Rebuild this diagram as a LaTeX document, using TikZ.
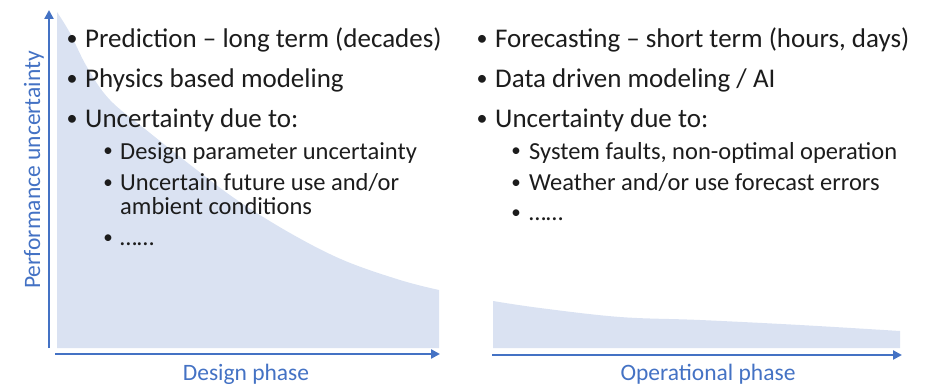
\documentclass[tikz,border=0pt]{standalone}
\usepackage{fontspec}
\setmainfont{Carlito}
\usetikzlibrary{arrows.meta}
\definecolor{axisblue}{HTML}{4472C4}
\definecolor{shadefill}{HTML}{DAE2F2}
\definecolor{txtcol}{HTML}{1C1C1C}
\begin{document}
\begin{tikzpicture}[x=1pt,y=-1pt,
  maintext/.style={anchor=base west,inner sep=0pt,text=txtcol,font=\fontsize{27}{32}\selectfont},
  subtext/.style={anchor=base west,inner sep=0pt,text=txtcol,font=\fontsize{24.5}{29}\selectfont},
  mainbullet/.style={anchor=base,inner sep=0pt,text=txtcol,font=\fontsize{22}{26}\selectfont},
  subbullet/.style={anchor=base,inner sep=0pt,text=txtcol,font=\fontsize{19}{23}\selectfont},
  axislabel/.style={anchor=base,inner sep=0pt,text=axisblue,font=\fontsize{23.5}{28}\selectfont},
  axisarrow/.style={draw=axisblue,line width=2.6pt,-{Triangle[length=9pt,width=9pt]}},
  area/.style={fill=shadefill,draw=none}]
\useasboundingbox (0,0) rectangle (942,385);
% shaded regions
\path[area] (57,348) -- (57,12)
  -- plot[smooth,tension=0.6] coordinates {(57,12) (70,33) (87,67) (110,100) (150,133) (193,167) (237,200) (290,233) (343,260) (400,280) (439,290)}
  -- (439,348) -- cycle;
\path[area] (493,348) -- (493,301)
  -- plot[smooth,tension=0.6] coordinates {(493,301) (540,308) (620,317) (700,320) (800,325) (900,331)}
  -- (900,348) -- cycle;
% axes
\coordinate (ly0) at (49,348);
\coordinate (ly1) at (49,10);
\coordinate (lx0) at (55,354);
\coordinate (lx1) at (440,354);
\coordinate (rx0) at (492,355);
\coordinate (rx1) at (902,355);
\draw[axisarrow] (ly0) -- (ly1);
\draw[axisarrow] (lx0) -- (lx1);
\draw[axisarrow] (rx0) -- (rx1);
% axis labels
\node[axislabel] (dl) at (246,380) {Design phase};
\node[axislabel] (ol) at (708,380) {Operational phase};
\node[axislabel,rotate=90] (pu) at (40,170) {Performance uncertainty};
% left bullets
\node[mainbullet] (lb1) at (72,46) {•};
\node[maintext] (lt1) at (85,48) {Prediction – long term (decades)};
\node[mainbullet] (lb2) at (72,86) {•};
\node[maintext] (lt2) at (85,88) {Physics based modeling};
\node[mainbullet] (lb3) at (72,126) {•};
\node[maintext] (lt3) at (85,128) {Uncertainty due to:};
\node[subbullet] (ls1) at (108,157) {•};
\node[subtext] (lu1) at (120,159) {Design parameter uncertainty};
\node[subbullet] (ls2) at (108,188) {•};
\node[subtext] (lu2) at (120,190) {Uncertain future use and/or};
\node[subtext] (lu2b) at (120,214) {ambient conditions};
\node[subbullet] (ls3) at (108,243) {•};
\node[subtext] (lu3) at (120,245) {……};
% right bullets
\node[mainbullet] (rb1) at (482,46) {•};
\node[maintext] (rt1) at (495,48) {Forecasting – short term (hours, days)};
\node[mainbullet] (rb2) at (482,86) {•};
\node[maintext] (rt2) at (495,88) {Data driven modeling / AI};
\node[mainbullet] (rb3) at (482,126) {•};
\node[maintext] (rt3) at (495,128) {Uncertainty due to:};
\node[subbullet] (rs1) at (516,157) {•};
\node[subtext] (ru1) at (529,159) {System faults, non-optimal operation};
\node[subbullet] (rs2) at (516,188) {•};
\node[subtext] (ru2) at (529,190) {Weather and/or use forecast errors};
\node[subbullet] (rs3) at (516,218) {•};
\node[subtext] (ru3) at (529,220) {……};
\end{tikzpicture}
\end{document}
